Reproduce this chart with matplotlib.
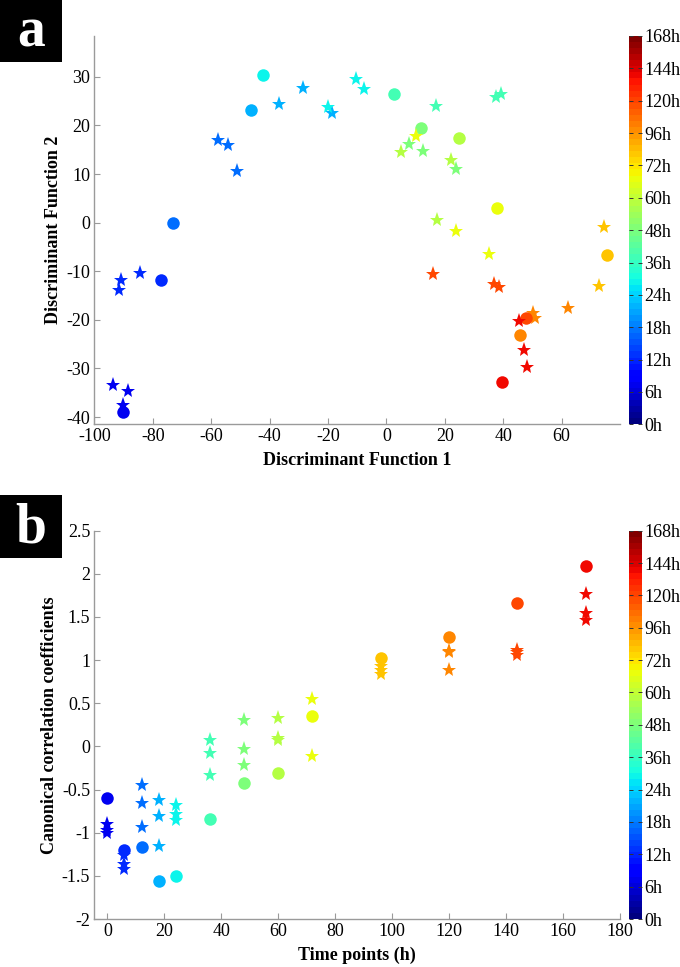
import numpy as np
import matplotlib
matplotlib.use("Agg")
import matplotlib.pyplot as plt
from matplotlib.colors import Normalize
from matplotlib.colorbar import ColorbarBase

plt.rcParams["font.family"] = ["Liberation Serif", "DejaVu Serif"]
plt.rcParams["axes.unicode_minus"] = False

# time points (colour index = position in this list)
times = [0, 6, 12, 18, 24, 36, 48, 60, 72, 96, 120, 144, 168]
cbar_labels = [f"{t}h" for t in times]

# panel a: discriminant functions, one circle per time point
a_circ_x = [-90.1, -77.3, -73.1, -46.2, -42.3, 2.5, 11.8, 24.9, 38.0, 75.7, 45.6, 47.9, 39.6]
a_circ_y = [-39.0, -11.9, 0.0, 23.2, 30.4, 26.4, 19.5, 17.5, 3.0, -6.6, -23.1, -19.7, -32.7]
# panel a: stars
a_star_t = [0, 0, 0, 6, 6, 6, 12, 12, 12, 18, 18, 18, 24, 24, 24, 36, 36, 36,
            48, 48, 48, 60, 60, 60, 72, 72, 72, 96, 96, 120, 120, 120,
            144, 144, 144, 168, 168, 168]
a_star_x = [-93.5, -88.6, -90.1, -90.7, -91.5, -84.4, -57.5, -54.3, -51.1,
            -36.7, -28.5, -18.6, -19.9, -10.4, -7.8, 17.0, 37.6, 39.4,
            7.6, 12.4, 24.0, 4.9, 22.3, 17.4, 10.2, 23.7, 35.2, 74.6, 72.9,
            62.1, 50.3, 50.9, 15.8, 36.9, 38.6, 45.3, 47.1, 48.2]
a_star_y = [-33.4, -34.6, -37.5, -11.8, -13.8, -10.4, 16.9, 15.9, 10.7,
            24.4, 27.8, 22.5, 23.7, 29.6, 27.5, 23.9, 25.8, 26.4,
            16.2, 14.8, 11.0, 14.5, 12.9, 0.55, 17.8, -1.7, -6.5, -0.95, -13.0,
            -17.5, -18.5, -19.7, -10.6, -12.7, -13.2, -20.2, -26.2, -29.8]

# panel b: canonical correlation coefficients vs time
b_circ_y = [-0.60, -1.20, -1.17, -1.56, -1.50, -0.84, -0.42, -0.31, 0.35, 1.02, 1.27, 1.66, 2.09]
b_star_t = [0, 0, 0, 6, 6, 6, 12, 12, 12, 18, 18, 18, 24, 24, 24, 36, 36, 36,
            48, 48, 48, 60, 60, 60, 72, 72, 96, 96, 96, 120, 120, 120,
            144, 144, 144, 168, 168, 168]
b_star_y = [-0.90, -0.97, -1.00, -1.26, -1.36, -1.42, -0.45, -0.65, -0.93,
            -0.62, -0.81, -1.15, -0.68, -0.78, -0.85, 0.08, -0.08, -0.33,
            0.31, -0.03, -0.22, 0.33, 0.10, 0.08, 0.55, -0.11, 0.93, 0.88, 0.84,
            1.11, 1.09, 0.89, 1.12, 1.09, 1.06, 1.77, 1.55, 1.46]

jet = plt.get_cmap("jet")
cbar_cmap = plt.get_cmap("jet", 64)
GRAY = "#9a9a9a"


def point_color(i):
    return jet(0.1 + 0.8 * i / (len(times) - 1))


def style_axes(ax):
    for side in ["top", "right"]:
        ax.spines[side].set_visible(False)
    for side in ["left", "bottom"]:
        ax.spines[side].set_color(GRAY)
        ax.spines[side].set_linewidth(1.0)
    ax.tick_params(direction="in", length=4, width=0.8, color=GRAY,
                   labelsize=13, pad=3)


def add_colorbar(fig, rect):
    cax = fig.add_axes(rect)
    cb = ColorbarBase(cax, cmap=cbar_cmap, norm=Normalize(0, len(times) - 1),
                      orientation="vertical")
    cb.set_ticks(range(len(times)))
    cb.set_ticklabels(cbar_labels)
    cb.outline.set_visible(False)
    cax.tick_params(direction="in", length=3, width=0.7, color="#333333",
                    labelsize=13, pad=2, left=True, right=True)
    return cb


def add_panel_tag(fig, y0, letter):
    tag = fig.add_axes([0, y0, 62 / 680, 63 / 967])
    tag.set_facecolor("black")
    tag.set_xticks([])
    tag.set_yticks([])
    for s in tag.spines.values():
        s.set_visible(False)
    tag.text(0.5, 0.47, letter, color="white", fontsize=40, fontweight="bold",
             ha="center", va="center", transform=tag.transAxes)


fig = plt.figure(figsize=(6.8, 9.67), dpi=100)

# ---- panel a ----
ax1 = fig.add_axes([94.3 / 680, 1 - 424.3 / 967, 525.7 / 680, 388.3 / 967])
a_star_t = np.array(a_star_t)
for i, t in enumerate(times):
    c = point_color(i)
    m = a_star_t == t
    ax1.plot(np.array(a_star_x)[m], np.array(a_star_y)[m], "*", color=c,
             markersize=11, markeredgewidth=0, linestyle="none")
    ax1.plot(a_circ_x[i], a_circ_y[i], "o", color=c, markersize=9,
             markeredgewidth=0)
ax1.set_xlim(-100, 80)
ax1.set_ylim(-41.5, 38.4)
ax1.set_xticks(np.arange(-100, 61, 20))
ax1.set_yticks(np.arange(-40, 31, 10))
style_axes(ax1)
ax1.set_xlabel("Discriminant Function 1", fontsize=13, fontweight="bold", labelpad=5)
ax1.set_ylabel("Discriminant Function 2", fontsize=13, fontweight="bold", labelpad=3)
add_colorbar(fig, [629.3 / 680, 1 - 424.3 / 967, 12.4 / 680, 388.3 / 967])
add_panel_tag(fig, 1 - 62 / 967, "a")

# ---- panel b ----
ax2 = fig.add_axes([94.3 / 680, 1 - 919 / 967, 525.7 / 680, 388.3 / 967])
b_star_t = np.array(b_star_t)
for i, t in enumerate(times):
    c = point_color(i)
    m = b_star_t == t
    ax2.plot(b_star_t[m], np.array(b_star_y)[m], "*", color=c,
             markersize=11, markeredgewidth=0, linestyle="none")
    ax2.plot(t, b_circ_y[i], "o", color=c, markersize=9, markeredgewidth=0)
ax2.set_xlim(-4.6, 180)
ax2.set_ylim(-2, 2.5)
ax2.set_xticks(np.arange(0, 181, 20))
ax2.set_yticks(np.arange(-2, 2.51, 0.5))
ax2.set_yticklabels(["-2", "-1.5", "-1", "-0.5", "0", "0.5", "1", "1.5", "2", "2.5"])
style_axes(ax2)
ax2.set_xlabel("Time points (h)", fontsize=13, fontweight="bold", labelpad=5)
ax2.set_ylabel("Canonical correlation coefficients", fontsize=13, fontweight="bold", labelpad=3)
add_colorbar(fig, [629.3 / 680, 1 - 919 / 967, 12.4 / 680, 388.3 / 967])
add_panel_tag(fig, 1 - 558 / 967, "b")

fig.savefig("out.png", dpi=100)
